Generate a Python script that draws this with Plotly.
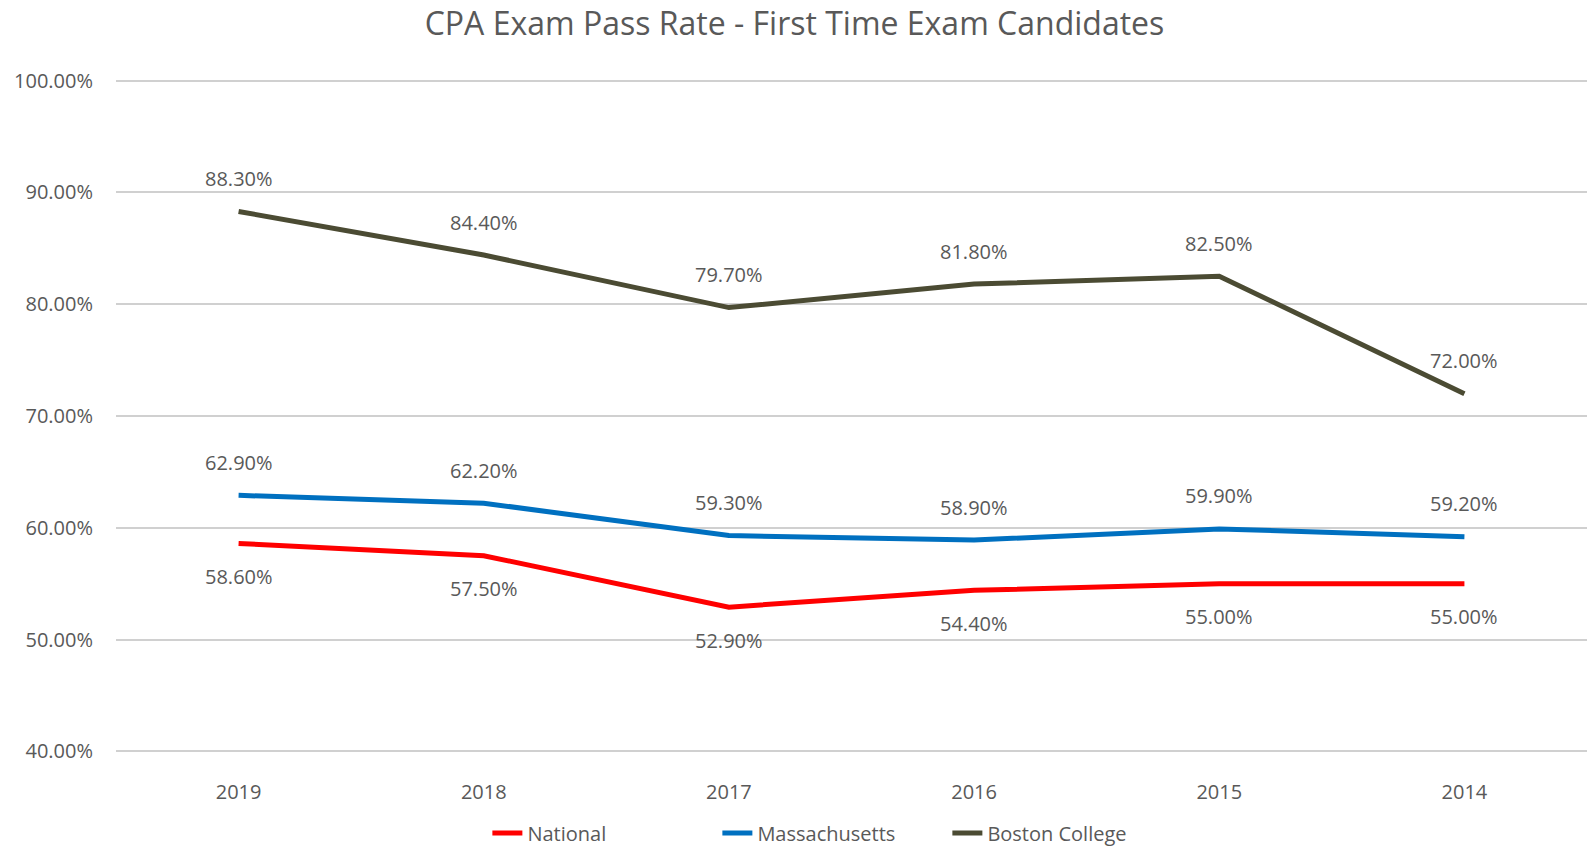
import plotly.graph_objects as go

years = ["2019", "2018", "2017", "2016", "2015", "2014"]
national = [58.6, 57.5, 52.9, 54.4, 55.0, 55.0]
massachusetts = [62.9, 62.2, 59.3, 58.9, 59.9, 59.2]
boston_college = [88.3, 84.4, 79.7, 81.8, 82.5, 72.0]

series = [
    ("National", national, "#FF0000", -1),
    ("Massachusetts", massachusetts, "#0070C0", 1),
    ("Boston College", boston_college, "#4B4B33", 1),
]

FONT = "Open Sans"
GREY = "#595959"

fig = go.Figure()
annotations = []
for name, vals, color, side in series:
    fig.add_trace(go.Scatter(
        x=years, y=vals, name=name, mode="lines",
        line=dict(color=color, width=5),
        hoverinfo="skip",
    ))
    for i, v in enumerate(vals):
        annotations.append(dict(
            x=i, y=v, xref="x", yref="y", text=f"{v:.2f}%",
            showarrow=False, yshift=33 * side,
            font=dict(family=FONT, size=20, color=GREY),
        ))

fig.update_layout(
    width=1589, height=848,
    margin=dict(l=116, r=2, t=79, b=95),
    paper_bgcolor="white", plot_bgcolor="white",
    title=dict(text="CPA Exam Pass Rate - First Time Exam Candidates",
               x=0.5, xanchor="center", y=1 - 24 / 848, yanchor="middle",
               yref="container", pad=dict(t=0, b=0),
               font=dict(family=FONT, size=32, color=GREY)),
    font=dict(family=FONT, color=GREY),
    annotations=annotations,
    showlegend=True,
    legend=dict(orientation="h", x=0.487, xanchor="center",
                yref="container", y=1 - 833 / 848, yanchor="middle",
                font=dict(family=FONT, size=20, color=GREY),
                entrywidth=185, entrywidthmode="pixels"),
)
fig.update_xaxes(
    type="category", range=[-0.5, 5.5], showgrid=False, zeroline=False,
    showline=False, ticks="", ticklabelstandoff=25,
    tickfont=dict(family=FONT, size=20, color=GREY),
)
fig.update_yaxes(
    range=[39.85, 100.15], tickvals=[40, 50, 60, 70, 80, 90, 100],
    ticktext=["40.00%", "50.00%", "60.00%", "70.00%", "80.00%", "90.00%", "100.00%"],
    showgrid=True, gridcolor="#D0D0D0", gridwidth=2, zeroline=False,
    showline=False, ticks="", ticklabelstandoff=22,
    tickfont=dict(family=FONT, size=20, color=GREY),
)

fig.write_html("out.html", config={"displayModeBar": False},
               post_script="document.body.style.margin='0px';")
